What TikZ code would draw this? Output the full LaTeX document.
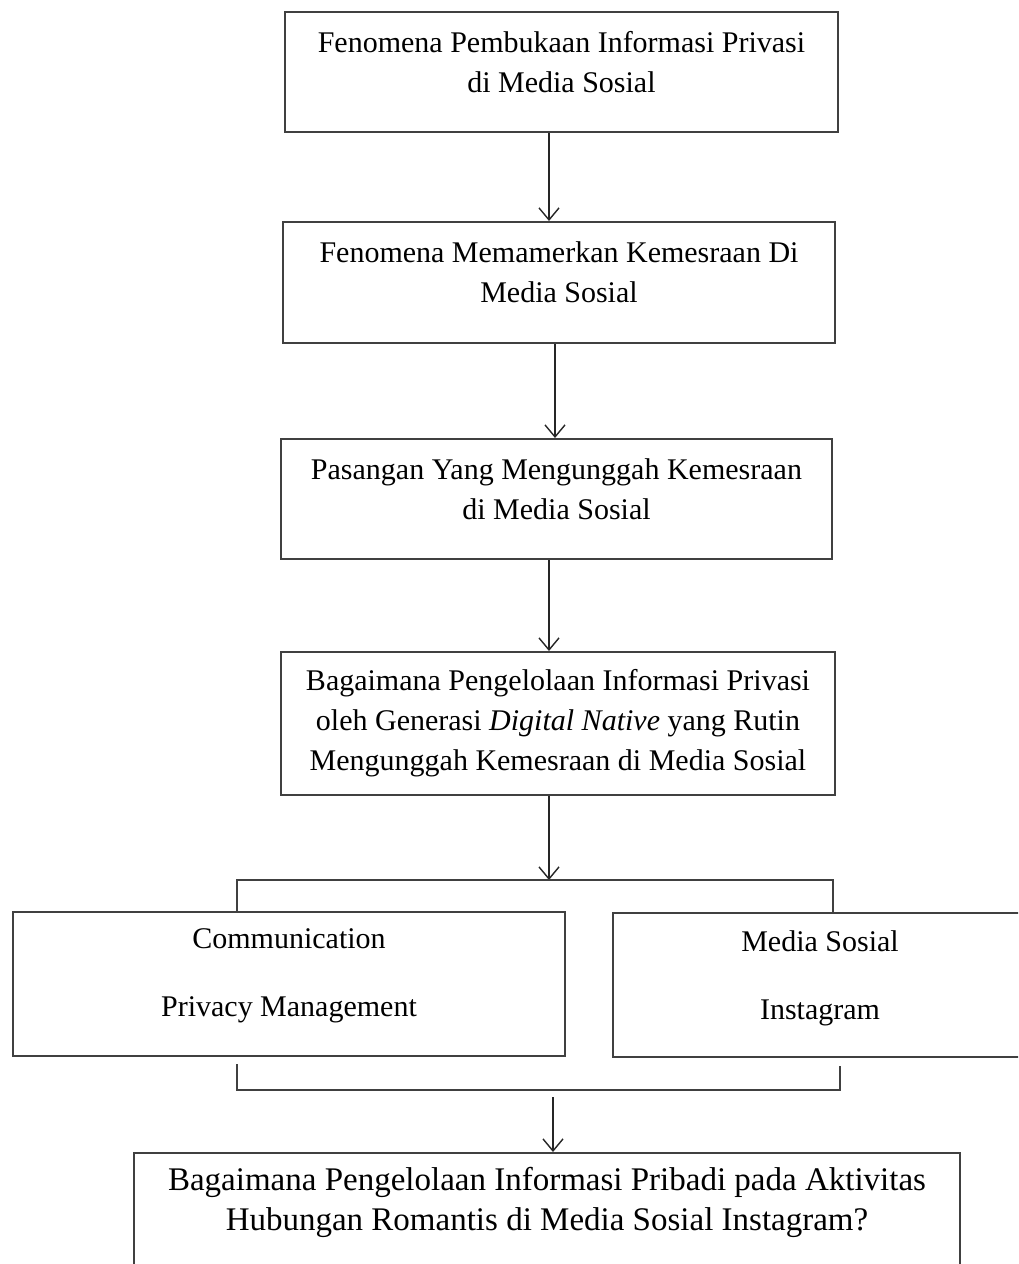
\documentclass[tikz,border=0pt]{standalone}
\usepackage{fontspec}
\setmainfont{Liberation Serif}
\usetikzlibrary{arrows.meta,positioning}

\begin{document}
\begin{tikzpicture}[
  x=0.5pt, y=-0.5pt,
  every node/.style={font=\fontsize{15}{20}\selectfont},
  stepbox/.style={
    rectangle,
    draw=black!75,
    line width=1pt,
    align=center,
    inner sep=0pt,
    minimum width=276pt,
    minimum height=60pt
  },
  arrow/.style={-{Straight Barb[length=6pt,width=10pt]}, line width=0.7pt, draw=black!85},
  bracket/.style={draw=black!75, line width=1pt}
]
\useasboundingbox (0,0) rectangle (1018,1264);
\clip (0,0) rectangle (1018,1264);

\node[stepbox, minimum width=276.5pt, text depth=10pt] (s1) at (561.5,72) {Fenomena Pembukaan Informasi Privasi\\ di Media Sosial};
\node[stepbox, minimum height=60.5pt, text depth=10pt] (s2) at (559,282.5) {Fenomena Memamerkan Kemesraan Di\\ Media Sosial};
\node[stepbox, minimum width=275.5pt, text depth=10pt] (s3) at (556.5,499) {Pasangan Yang Mengunggah Kemesraan\\ di Media Sosial};
\node[stepbox, minimum width=277pt, minimum height=71.5pt] (s4) at (558,723.5) {Bagaimana Pengelolaan Informasi Privasi\\ oleh Generasi \textit{Digital Native} yang Rutin\\ Mengunggah Kemesraan di Media Sosial};
\node[stepbox, minimum height=72pt, text depth=11pt] (cpm) at (289,984) {Communication\\[14pt] Privacy Management};
\node[stepbox, minimum width=207pt, minimum height=72pt, text depth=10pt] (ms) at (820,985) {Media Sosial\\[14pt] Instagram};
\node[stepbox, minimum width=413pt, text depth=14pt, font=\fontsize{16.5}{20}\selectfont] (s5) at (547,1213) {Bagaimana Pengelolaan Informasi Pribadi pada Aktivitas\\ Hubungan Romantis di Media Sosial Instagram?};

\coordinate (split) at (549,880);
\coordinate (forkL) at (237,880);
\coordinate (forkR) at (833,880);
\coordinate (joinLt) at (237,1064);
\coordinate (joinL) at (237,1090);
\coordinate (joinR) at (840,1090);
\coordinate (joinRt) at (840,1066);
\coordinate (merge) at (553,1097);

\draw[arrow] ([xshift=-6.25pt]s1.south) -- ([xshift=-6.25pt]s1.south |- s2.north);
\draw[arrow] ([xshift=-2pt]s2.south) -- ([xshift=-2pt]s2.south |- s3.north);
\draw[arrow] ([xshift=-3.75pt]s3.south) -- ([xshift=-3.75pt]s3.south |- s4.north);
\draw[arrow] (split |- s4.south) -- (split);
\draw[bracket] (forkL |- cpm.north) -- (forkL) -- (forkR) -- (forkR |- ms.north);
\draw[bracket] (joinLt) -- (joinL) -- (joinR) -- (joinRt);
\draw[arrow] (merge) -- (merge |- s5.north);
\end{tikzpicture}
\end{document}
